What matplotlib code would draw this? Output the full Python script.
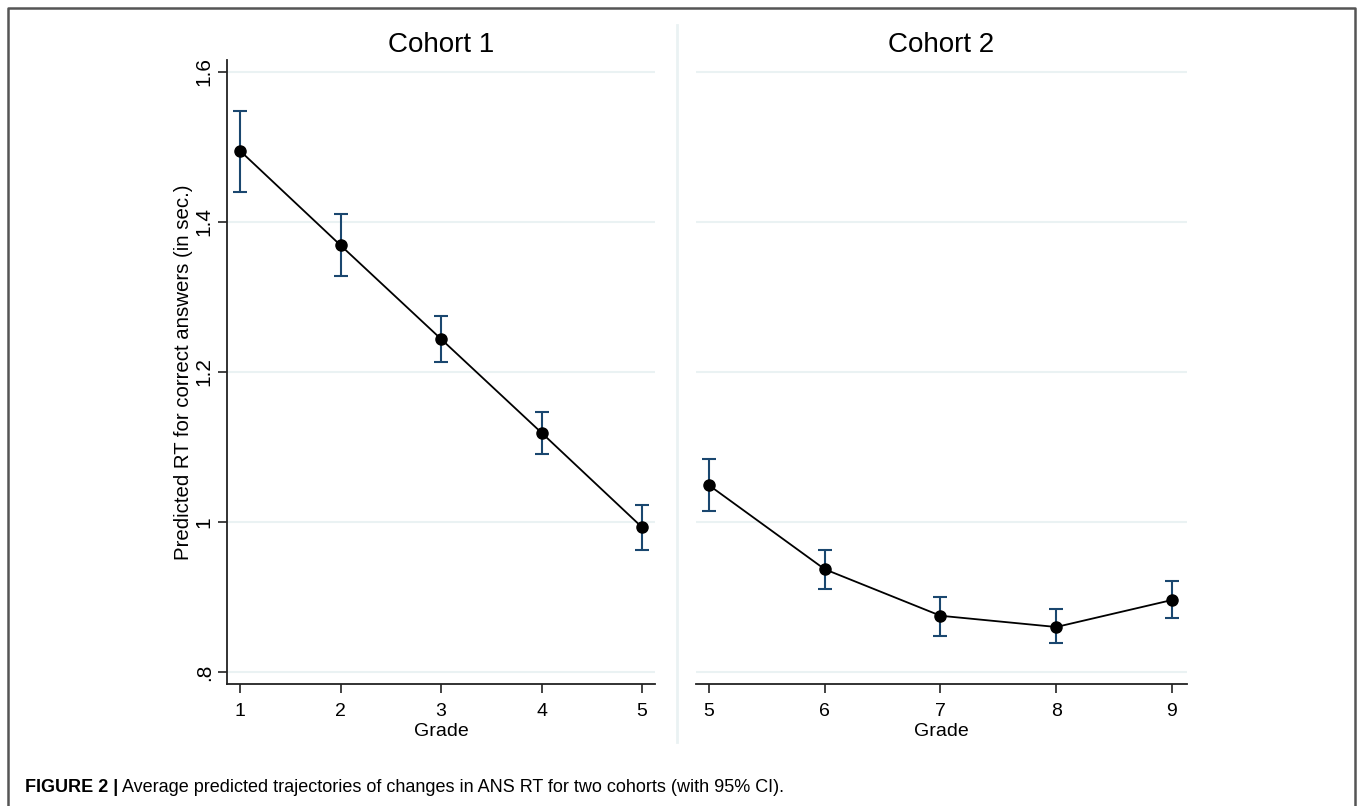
import matplotlib
matplotlib.use("Agg")
import matplotlib.pyplot as plt
from matplotlib.lines import Line2D

plt.rcParams['font.family'] = ['Liberation Sans', 'DejaVu Sans']

# ---- data ----
grades_c1 = [1, 2, 3, 4, 5]
mean_c1 = [1.495, 1.369, 1.244, 1.119, 0.993]
lo_c1 = [1.440, 1.328, 1.213, 1.091, 0.963]
hi_c1 = [1.548, 1.411, 1.275, 1.147, 1.023]

grades_c2 = [5, 6, 7, 8, 9]
mean_c2 = [1.049, 0.937, 0.875, 0.860, 0.896]
lo_c2 = [1.015, 0.911, 0.848, 0.839, 0.872]
hi_c2 = [1.084, 0.963, 0.900, 0.884, 0.921]

yticks = [0.8, 1.0, 1.2, 1.4, 1.6]
ytick_labels = ['.8', '1', '1.2', '1.4', '1.6']
titles = ['Cohort 1', 'Cohort 2']
ylabel = 'Predicted RT for correct answers (in sec.)'
xlabel = 'Grade'

W, H = 1357, 806
fig = plt.figure(figsize=(W / 100, H / 100), dpi=100)

def px_axes(x0, x1, y0, y1):
    return fig.add_axes([x0 / W, (H - y1) / H, (x1 - x0) / W, (y1 - y0) / H])

GRID = '#eaf2f3'
ERR = '#1a476f'
SPINE = '#222222'

ax1 = px_axes(227, 655, 60, 684)
ax2 = px_axes(696, 1187, 60, 684)

panels = [
    (ax1, grades_c1, mean_c1, lo_c1, hi_c1, (0.8706, 5.129)),
    (ax2, grades_c2, mean_c2, lo_c2, hi_c2, (4.8877, 9.1296)),
]
for i, (ax, g, m, lo, hi, xl) in enumerate(panels):
    yerr = [[mm - l for mm, l in zip(m, lo)], [h - mm for mm, h in zip(m, hi)]]
    for yv in yticks:
        ax.axhline(yv, color=GRID, lw=1.5, zorder=0)
    ax.errorbar(g, m, yerr=yerr, fmt='none', ecolor=ERR, elinewidth=1.5,
                capsize=5, capthick=1.5, zorder=2)
    ax.plot(g, m, color='black', lw=1.3, marker='o', markersize=8,
            markerfacecolor='black', markeredgecolor='black', zorder=3)
    ax.set_xlim(*xl)
    ax.set_ylim(0.784, 1.616)
    ax.set_xticks(g)
    ax.set_xticklabels([str(v) for v in g])
    ax.set_yticks(yticks)
    ax.set_facecolor('none')
    for s in ['top', 'right']:
        ax.spines[s].set_visible(False)
    ax.spines['bottom'].set_color(SPINE)
    ax.spines['bottom'].set_linewidth(1.3)
    ax.tick_params(axis='x', direction='out', length=6.5, width=1.2,
                   color=SPINE, labelsize=14, pad=7)
    ax.set_xlabel(xlabel, fontsize=14, labelpad=2.5)
    ax.set_title(titles[i], fontsize=20, pad=6)
    if i == 0:
        ax.spines['left'].set_color(SPINE)
        ax.spines['left'].set_linewidth(1.3)
        ax.set_yticklabels(ytick_labels, rotation=90, va='center')
        ax.tick_params(axis='y', direction='out', length=6.5, width=1.2,
                       color=SPINE, labelsize=15, pad=3)
        ax.set_ylabel(ylabel, fontsize=14.7, labelpad=1)
    else:
        ax.spines['left'].set_visible(False)
        ax.tick_params(axis='y', left=False, labelleft=False)

# divider between panels
fig.add_artist(Line2D([677 / W, 677 / W], [(H - 25) / H, (H - 742) / H],
                      color=GRID, lw=2))

# outer frame (open at bottom)
fx0, fx1, fy0 = 8 / W, 1355 / W, (H - 8) / H
fig.add_artist(Line2D([fx0, fx0, fx1, fx1], [0, fy0, fy0, 0],
                      color='#555555', lw=1.8))

# caption
cap_y = (H - 788) / H
t1 = fig.text(25 / W, cap_y, 'FIGURE 2 |', fontsize=13, fontweight='bold',
              va='center', ha='left')
fig.canvas.draw()
bb = t1.get_window_extent()
fig.text((bb.x1 + 4) / W, cap_y,
         'Average predicted trajectories of changes in ANS RT for two cohorts (with 95% CI).',
         fontsize=13, va='center', ha='left')

fig.savefig('out.png', dpi=100)
